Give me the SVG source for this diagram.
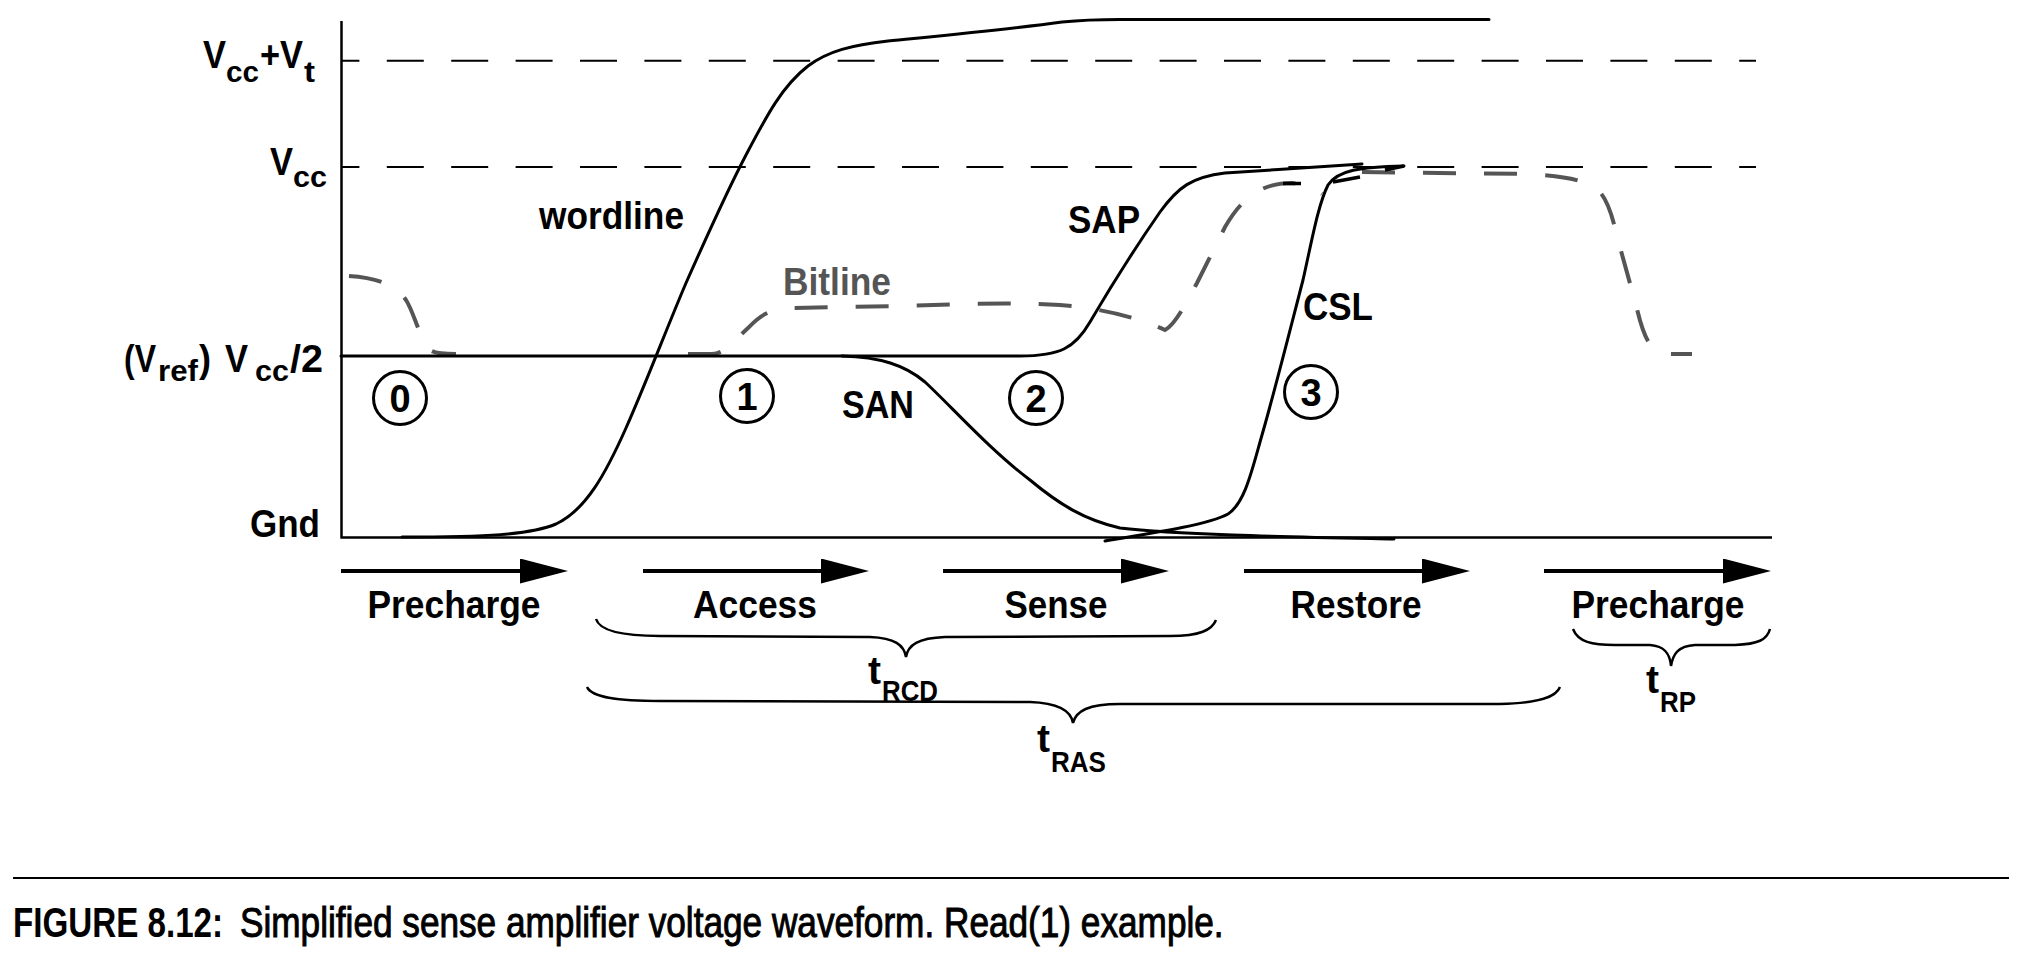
<svg xmlns="http://www.w3.org/2000/svg" width="2022" height="960" viewBox="0 0 2022 960">
<defs>
<marker id="ah" markerUnits="userSpaceOnUse" markerWidth="50" markerHeight="26" refX="0" refY="12.5" orient="auto">
<path d="M0,0 L48,12.5 L0,25 Z" fill="#000"/>
</marker>
</defs>
<style>
.lbl{font-family:"Liberation Sans",Arial,sans-serif;font-weight:bold;font-size:38px;fill:#000}
.sub{font-size:30px}
.gray{fill:#555}
.wave{fill:none;stroke:#000;stroke-width:3;stroke-linecap:round;stroke-linejoin:round}
.bit{fill:none;stroke:#555;stroke-width:4;stroke-dasharray:33 28}
.ref{fill:none;stroke:#000;stroke-width:2;stroke-dasharray:37 27.4;stroke-dashoffset:18.6}
.axis{fill:none;stroke:#000;stroke-width:2.5}
.brace{fill:none;stroke:#000;stroke-width:2.5}
.phase{stroke:#000;stroke-width:4;marker-end:url(#ah)}
.circ{fill:none;stroke:#000;stroke-width:3}
.cap{font-family:"Liberation Sans",Arial,sans-serif;font-size:42px;fill:#000}
</style>
<rect width="2022" height="960" fill="#fff"/>

<g id="axes">
<line class="ref" x1="341" y1="60.7" x2="1756" y2="60.7"/>
<line class="ref" x1="341" y1="167" x2="1756" y2="167"/>
<path class="axis" d="M341.5,21 V538.5 M340.5,537.5 H1772"/>
</g>

<g id="axis-labels">
<text class="lbl" x="203" y="68" textLength="23" lengthAdjust="spacingAndGlyphs">V</text>
<text class="lbl sub" x="226" y="81.7" textLength="33" lengthAdjust="spacingAndGlyphs">cc</text>
<text class="lbl" x="260" y="68" textLength="43" lengthAdjust="spacingAndGlyphs">+V</text>
<text class="lbl sub" x="304" y="81.7" textLength="11" lengthAdjust="spacingAndGlyphs">t</text>
<text class="lbl" x="270" y="175" textLength="23" lengthAdjust="spacingAndGlyphs">V</text>
<text class="lbl sub" x="293" y="187" textLength="34" lengthAdjust="spacingAndGlyphs">cc</text>
<text class="lbl" x="124" y="371.7" textLength="32" lengthAdjust="spacingAndGlyphs">(V</text>
<text class="lbl sub" x="158" y="381" textLength="40" lengthAdjust="spacingAndGlyphs">ref</text>
<text class="lbl" x="199" y="371.7" textLength="12" lengthAdjust="spacingAndGlyphs">)</text>
<text class="lbl" x="225" y="371.7" textLength="23" lengthAdjust="spacingAndGlyphs">V</text>
<text class="lbl sub" x="255" y="381" textLength="34" lengthAdjust="spacingAndGlyphs">cc</text>
<text class="lbl" x="290" y="371.7" textLength="33" lengthAdjust="spacingAndGlyphs">/2</text>
<text class="lbl" x="250" y="537" textLength="70" lengthAdjust="spacingAndGlyphs">Gnd</text>
</g>

<g id="bitline">
<path class="bit" d="M349,276 C380,278 396,286 406,300 C414,312 420,340 430,350 C436,354 445,354 456,354"/>
<path class="bit" d="M688,354 L712,354 C725,354 735,340 748,328 C758,318 765,310 790,308 L900,306 C960,304 1010,302 1060,305 C1100,308 1140,318 1165,330 C1175,325 1185,305 1197,283 L1225,227 C1235,210 1245,198 1260,190 C1270,185 1280,183 1292,183 C1302,184 1312,188 1322,194"/>
<path class="bit" d="M1362,172 L1528,174 C1560,176 1585,179 1598,190 C1608,200 1612,215 1618,240 L1636,305 C1642,330 1648,352 1665,354 L1692,354"/>
<path d="M1283,183.5 L1301,183.5 M1333,182 L1360,177 M1385,170 L1404,166" fill="none" stroke="#000" stroke-width="3.5"/>
</g>

<g id="wordline">
<path class="wave" d="M402,537 C485,537 530,535 556,524 C586,510 606,473 626,428 C646,383 666,330 686,283 C706,238 726,193 746,155 C766,117 782,86 808,66 C828,51 852,45 888,41 C948,35 1012,29 1062,22 C1082,20 1100,19.5 1120,19.5 L1489,19.5"/>
</g>

<g id="sap">
<path class="wave" d="M341,356 H1020 C1060,356 1075,348 1090,322 C1110,288 1135,248 1160,212 C1178,187 1192,177 1225,173 C1270,170 1320,167 1362,164"/>
</g>

<g id="san">
<path class="wave" d="M842,356 C880,357 905,365 925,382 C950,405 990,450 1030,480 C1060,505 1085,520 1120,528 C1180,535 1300,537 1394,539"/>
</g>

<g id="csl">
<path class="wave" d="M1105,541 C1160,532 1210,524 1228,514 C1245,503 1252,470 1262,435 C1275,390 1290,330 1303,280 C1312,240 1318,205 1328,185 C1338,170 1360,167 1404,166"/>
</g>

<g id="signal-labels">
<text class="lbl" x="539" y="229" textLength="145" lengthAdjust="spacingAndGlyphs">wordline</text>
<text class="lbl gray" x="783" y="294.5" textLength="108" lengthAdjust="spacingAndGlyphs">Bitline</text>
<text class="lbl" x="1068" y="233" textLength="72" lengthAdjust="spacingAndGlyphs">SAP</text>
<text class="lbl" x="842" y="418" textLength="72" lengthAdjust="spacingAndGlyphs">SAN</text>
<text class="lbl" x="1303" y="320" textLength="70" lengthAdjust="spacingAndGlyphs">CSL</text>
</g>

<g id="step0"><circle class="circ" cx="400" cy="398" r="26.5"/><text class="lbl" x="400" y="411.5" text-anchor="middle">0</text></g>
<g id="step1"><circle class="circ" cx="747" cy="396" r="26.5"/><text class="lbl" x="747" y="409.5" text-anchor="middle">1</text></g>
<g id="step2"><circle class="circ" cx="1036" cy="398" r="26.5"/><text class="lbl" x="1036" y="411.5" text-anchor="middle">2</text></g>
<g id="step3"><circle class="circ" cx="1311" cy="392" r="26.5"/><text class="lbl" x="1311" y="405.5" text-anchor="middle">3</text></g>

<g id="phases">
<line class="phase" x1="341" y1="571" x2="520" y2="571"/>
<line class="phase" x1="643" y1="571" x2="821" y2="571"/>
<line class="phase" x1="943" y1="571" x2="1121" y2="571"/>
<line class="phase" x1="1244" y1="571" x2="1422" y2="571"/>
<line class="phase" x1="1544" y1="571" x2="1723" y2="571"/>
<text class="lbl" x="454" y="618" text-anchor="middle" textLength="173" lengthAdjust="spacingAndGlyphs">Precharge</text>
<text class="lbl" x="755" y="618" text-anchor="middle" textLength="124" lengthAdjust="spacingAndGlyphs">Access</text>
<text class="lbl" x="1056" y="618" text-anchor="middle" textLength="103" lengthAdjust="spacingAndGlyphs">Sense</text>
<text class="lbl" x="1356" y="618" text-anchor="middle" textLength="131" lengthAdjust="spacingAndGlyphs">Restore</text>
<text class="lbl" x="1658" y="618" text-anchor="middle" textLength="173" lengthAdjust="spacingAndGlyphs">Precharge</text>
</g>

<g id="braces">
<path class="brace" d="M596,619 C600,632 625,636 660,636 L870,637 C895,638 904,645 906,657 C908,645 918,638 945,637 L1170,636 C1200,636 1212,630 1216,620"/>
<path class="brace" d="M587,687 C592,698 620,701 660,701 L1030,702 C1060,703 1071,711 1073,723 C1076,711 1088,704 1120,704 L1500,704 C1540,703 1556,697 1560,687"/>
<path class="brace" d="M1573,629 C1578,642 1592,645 1615,645 L1650,645 C1665,646 1670,654 1671,666 C1673,654 1678,646 1695,645 L1735,645 C1758,644 1767,640 1770,629"/>
<text class="lbl" x="868" y="684" textLength="13" lengthAdjust="spacingAndGlyphs">t</text>
<text class="lbl sub" font-size="28" x="882" y="701" textLength="56" lengthAdjust="spacingAndGlyphs">RCD</text>
<text class="lbl" x="1037" y="752" textLength="13" lengthAdjust="spacingAndGlyphs">t</text>
<text class="lbl sub" font-size="28" x="1051" y="772" textLength="55" lengthAdjust="spacingAndGlyphs">RAS</text>
<text class="lbl" x="1646" y="693" textLength="13" lengthAdjust="spacingAndGlyphs">t</text>
<text class="lbl sub" font-size="28" x="1660" y="712" textLength="36" lengthAdjust="spacingAndGlyphs">RP</text>
</g>

<g id="caption">
<line x1="13" y1="878" x2="2009" y2="878" stroke="#000" stroke-width="2"/>
<text class="cap" font-weight="bold" transform="translate(13,937) scale(0.79,1)" x="0" y="0">FIGURE 8.12:</text>
<text class="cap" transform="translate(240,937) scale(0.838,1)" x="0" y="0" stroke="#000" stroke-width="1">Simplified sense amplifier voltage waveform. Read(1) example.</text>
</g>
</svg>
